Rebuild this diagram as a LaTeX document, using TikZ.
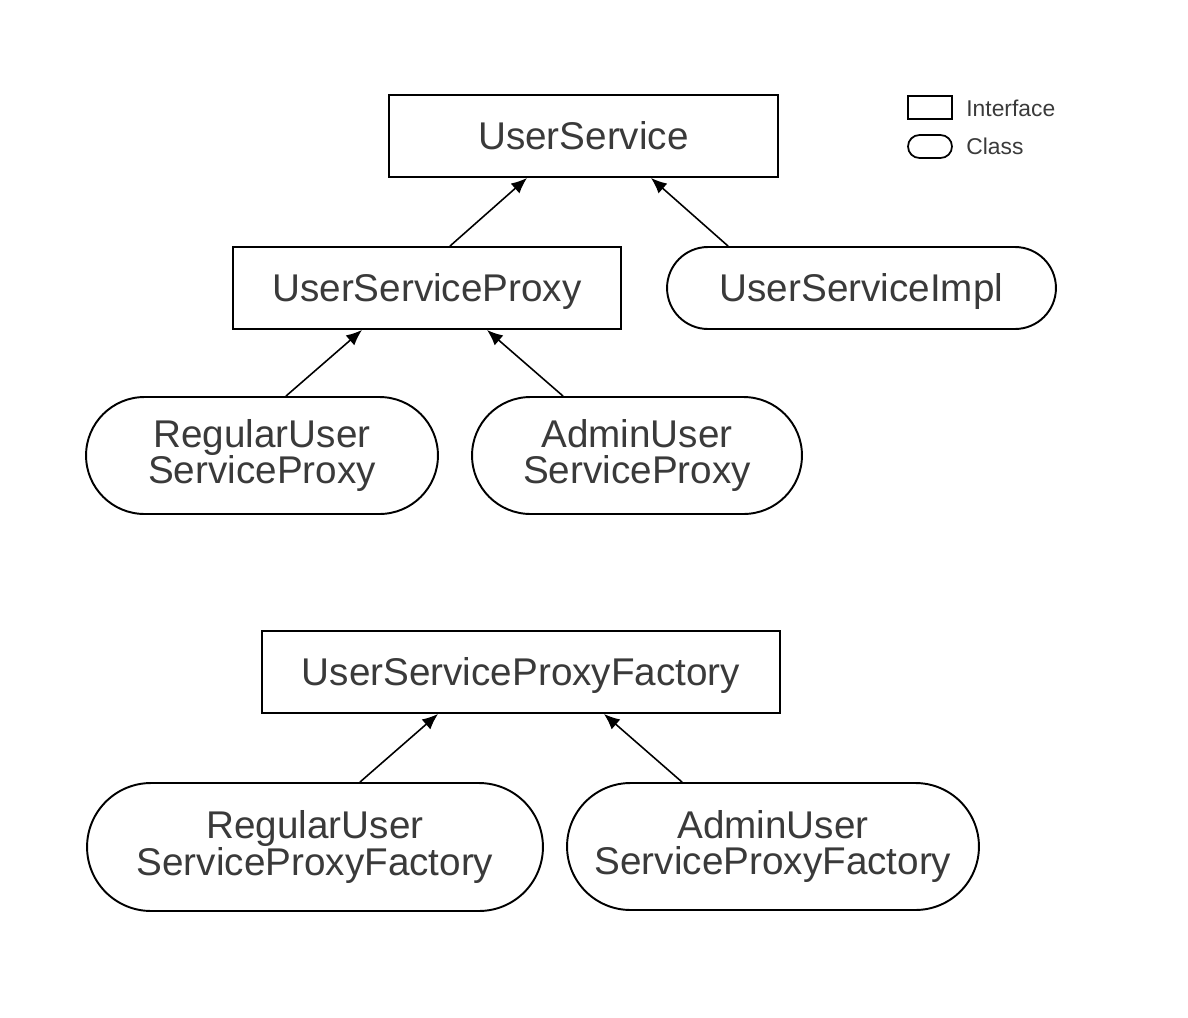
\documentclass[tikz,border=0pt]{standalone}
\usepackage{fontspec}
\setmainfont{Liberation Sans}
\usepackage{tikz}
\usetikzlibrary{calc,shapes.misc,arrows.meta}
\definecolor{txtgray}{HTML}{3A3A3A}
\tikzset{
  iface/.style={draw,line width=1.1pt,rectangle,inner sep=0pt,text=txtgray,text height=15.8pt,text depth=0pt,font=\fontsize{22}{21}\selectfont},
  klass/.style={draw,line width=1.1pt,rounded rectangle,inner sep=0pt,align=center,text=txtgray,font=\fontsize{22}{21}\selectfont},
  inherit/.style={-{Latex[length=9pt,width=7.5pt]},line width=0.9pt}
}
\begin{document}
\begin{tikzpicture}[x=0.02cm,y=-0.02cm]
\useasboundingbox (0,0) rectangle (1188,1018);
% top hierarchy
\node[iface,minimum width=7.78cm,minimum height=1.64cm](us)at(583.5,136){UserService};
\node[iface,minimum width=7.76cm,minimum height=1.64cm](usp)at(427,288){UserServiceProxy};
\node[klass,text height=15.8pt,text depth=0pt,minimum width=7.78cm,minimum height=1.64cm](usi)at(861.5,288){UserServiceImpl};
\node[klass,minimum width=7.04cm,minimum height=2.34cm](rusp)at(262,455.5){RegularUser\\ServiceProxy};
\node[klass,minimum width=6.6cm,minimum height=2.34cm](ausp)at(637,455.5){AdminUser\\ServiceProxy};
\draw[inherit]([xshift=0.46cm]usp.north)--([xshift=-1.13cm]us.south);
\draw[inherit]([xshift=-2.67cm]usi.north)--([xshift=1.35cm]us.south);
\draw[inherit]([xshift=0.48cm]rusp.north)--([xshift=-1.3cm]usp.south);
\draw[inherit]([xshift=-1.48cm]ausp.north)--([xshift=1.2cm]usp.south);
% factories
\node[iface,minimum width=10.36cm,minimum height=1.64cm](uspf)at(521,672){UserServiceProxyFactory};
\node[klass,minimum width=9.12cm,minimum height=2.56cm](ruspf)at(315,847){RegularUser\\ServiceProxyFactory};
\node[klass,minimum width=8.24cm,minimum height=2.54cm](auspf)at(773,846.5){AdminUser\\ServiceProxyFactory};
\draw[inherit]([xshift=0.9cm]ruspf.north)--([xshift=-1.66cm]uspf.south);
\draw[inherit]([xshift=-1.82cm]auspf.north)--([xshift=1.66cm]uspf.south);
% legend
\node[draw,line width=1pt,minimum width=0.88cm,minimum height=0.46cm,inner sep=0pt](lgi)at(930,107.5){};
\node[draw,line width=1pt,rounded rectangle,minimum width=0.88cm,minimum height=0.46cm,inner sep=0pt](lgc)at(930,146.5){};
\node[anchor=west,inner sep=0pt,text=txtgray,font=\fontsize{13}{13}\selectfont](lgit)at(966,108){Interface};
\node[anchor=west,inner sep=0pt,text=txtgray,font=\fontsize{13}{13}\selectfont](lgct)at(966,146){Class};
\end{tikzpicture}
\end{document}
